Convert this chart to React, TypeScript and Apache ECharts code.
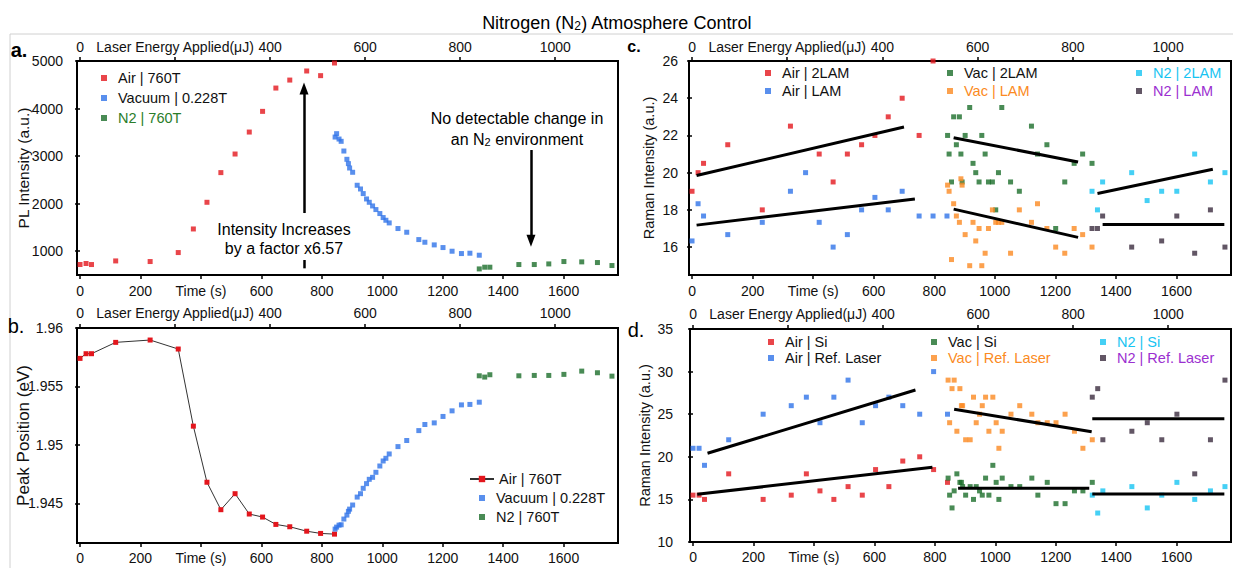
import React, { useEffect, useRef } from "react";
import * as echarts from "echarts";

// ---------- time bases (s) ----------
const AIR_T = [0, 20, 38, 118, 232, 325, 375, 420, 466, 513, 560, 604, 648, 694, 750, 796, 842];
const VAC_T = [844, 849, 857, 864, 873, 883, 888, 892, 902, 917, 928, 937, 948, 957, 968, 979, 992, 1003, 1012, 1023, 1052, 1081, 1121, 1141, 1172, 1201, 1231, 1262, 1290, 1321];
const N2_T = [1321, 1339, 1356, 1452, 1503, 1551, 1601, 1660, 1712, 1760];

// ---------- panel a: PL intensity ----------
const PL_AIR = [721, 742, 720, 796, 783, 972, 1468, 2029, 2653, 3044, 3506, 3941, 4431, 4599, 4790, 4692, 4958];
const PL_VAC = [3401, 3472, 3359, 3311, 3107, 2933, 2842, 2750, 2660, 2387, 2309, 2212, 2099, 2029, 1952, 1876, 1792, 1708, 1651, 1595, 1477, 1399, 1245, 1189, 1133, 1077, 1000, 951, 958, 916];
const PL_N2 = [628, 664, 664, 720, 720, 733, 783, 776, 762, 699];

// ---------- panel b: peak position ----------
const PP_AIR = [1.9574, 1.9578, 1.9578, 1.95877, 1.95897, 1.9582, 1.9516, 1.9468, 1.94445, 1.94582, 1.94408, 1.94382, 1.94319, 1.94299, 1.94261, 1.94242, 1.94236];
const PP_VAC = [1.94279, 1.94296, 1.94313, 1.94316, 1.94365, 1.94399, 1.94431, 1.9445, 1.94485, 1.94553, 1.94582, 1.94628, 1.94668, 1.94705, 1.94722, 1.94765, 1.94819, 1.94862, 1.94885, 1.94922, 1.94985, 1.95037, 1.95122, 1.95174, 1.95188, 1.95243, 1.95291, 1.95342, 1.95346, 1.95365];
const PP_N2 = [1.95591, 1.9558, 1.956, 1.95591, 1.95594, 1.95594, 1.95603, 1.95631, 1.95617, 1.95588];

// ---------- panel c: Raman LAM / 2LAM ----------
const AIR_2LAM_T = [0, 20, 38, 118, 232, 325, 420, 466, 513, 560, 604, 648, 694, 750, 796];
const AIR_2LAM = [19, 20, 20.5, 21.5, 18, 22.5, 21, 19.5, 21, 21.5, 22, 23, 24, 22, 26];
const AIR_LAM = [16.33, 18.33, 17.67, 16.67, 17.33, 19, 20, 17.33, 16, 16.67, 18, 18.67, 18, 19, 17.67, 17.67, 17.67];
const VAC_2LAM = [22, 21, 19.5, 23, 21.5, 23, 21, 19.5, 22, 23.5, 20.5, 20, 19.5, 22, 21, 19.5, 19.5, 18, 20, 23.5, 19.5, 19, 22.5, 21, 21.5, 17, 19.5, 20.5, 21, 20.5];
const VAC_LAM = [19.33, 19, 15.33, 18.33, 17.67, 17.33, 19.67, 19.33, 16.67, 15, 17.33, 16.33, 17, 15, 15.67, 17, 18, 17.33, 17.33, 17.33, 15.67, 18, 17.33, 18.33, 17, 16, 15.67, 17, 16.67, 16];
const N2_2LAM = [19, 18, 19.5, 20, 18.5, 19, 19, 21, 19.5, 20];
const N2_LAM_T = [1321, 1339, 1356, 1452, 1551, 1601, 1660, 1712, 1760];
const N2_LAM = [17, 17, 17.67, 16, 16.33, 17.67, 15.67, 18, 16];

const FIT_C_AIR_2LAM = [[15, 19.85], [700, 22.45]];
const FIT_C_AIR_LAM = [[15, 17.18], [736, 18.59]];
const FIT_C_VAC_2LAM = [[864, 21.88], [1275, 20.57]];
const FIT_C_VAC_LAM = [[864, 18.04], [1275, 16.52]];
const FIT_C_N2_2LAM = [[1339, 18.88], [1720, 20.18]];
const FIT_C_N2_LAM = [[1356, 17.22], [1758, 17.22]];

// ---------- panel d: Raman Si / reference laser ----------
const AIR_SI = [15.5, 15.5, 15, 18, 15, 15.5, 18, 16, 15, 16.5, 15.5, 18.5, 16.5, 19.5, 20, 18.5, 17];
const AIR_REF = [21, 21, 19, 22, 25, 26, 27, 24, 27, 29, 24, 26, 27, 26, 25, 30, 25];
const VAC_SI = [17.5, 15.5, 14, 16, 18, 17, 17, 16.5, 15.5, 16.5, 15, 16.5, 16, 15.5, 17.5, 15.5, 19, 17, 15, 17.5, 16.5, 16.5, 17.5, 15.5, 17, 14.5, 14.5, 16, 16, 17];
const VAC_REF = [29, 24, 28, 29, 23, 28, 26, 26, 22, 22, 27, 24, 25, 26, 27, 23, 27, 24, 21, 23, 25, 26, 25, 24, 24, 24, 25, 23, 21, 22];
const N2_SI = [15.5, 13.4, 16, 16.5, 14, 15.5, 17, 15, 16, 16.5];
const N2_REF = [27, 28, 22, 23, 24, 22, 25, 18, 22, 29];

const FIT_D_AIR_REF = [[48, 20.41], [736, 27.84]];
const FIT_D_AIR_SI = [[14, 15.6], [792, 18.77]];
const FIT_D_VAC_REF = [[864, 25.57], [1319, 22.95]];
const FIT_D_VAC_SI = [[877, 16.3], [1311, 16.3]];
const FIT_D_N2_REF = [[1321, 24.47], [1758, 24.47]];
const FIT_D_N2_SI = [[1321, 15.63], [1758, 15.63]];

// ---------- annotation anchors (data coords, panel a) ----------
const ARROW_UP = [[741, 1803], [741, 4420]];
const ARROW_UP_STUB = [[741, 815], [741, 640]];
const ARROW_DOWN = [[1492, 3128], [1492, 1220]];

// ---------- axes ticks ----------
const TIME_TICKS = [0, 200, 400, 600, 800, 1000, 1200, 1400, 1600];
const ENERGY_TICKS = [0, 200, 400, 600, 800, 1000];
const Y_TICKS_A = [1000, 2000, 3000, 4000, 5000];
const Y_TICKS_B = [1.945, 1.95, 1.955, 1.96];
const Y_TICKS_C = [16, 18, 20, 22, 24, 26];
const Y_TICKS_D = [10, 15, 20, 25, 30, 35];

const T_MIN = -10;
const T_MAX = 1780;
const E_PER_S = 0.636;

const FONT = '"Liberation Sans", Arial, Helvetica, sans-serif';
const RED = "#e3161d";
const BLUE = "#2f73e8";
const GREEN = "#1b6e2a";
const ORANGE = "#fb8a22";
const CYAN = "#17c4f2";
const DARK = "#3b2c3f";
const TXT_GREEN = "#2a7d2a";
const TXT_ORANGE = "#fb8a22";
const TXT_CYAN = "#17c4f2";
const TXT_PURPLE = "#9b30d0";

const pts = (ts: number[], vs: number[]) => ts.map((t, i) => [t, vs[i]]);
const strip = (n: string) => n.split("::")[1];

function buildOption(): any {
  const grids = [
    { left: 77, top: 61, width: 541, height: 214 },
    { left: 77, top: 328, width: 541, height: 215 },
    { left: 689, top: 61, width: 542, height: 214 },
    { left: 690, top: 329, width: 541, height: 213 },
  ].map((g) => ({ ...g, show: true, borderColor: "#000", borderWidth: 2, backgroundColor: "transparent" }));

  const lblMarginsBottom = [9, 8, 9, 8];
  const lblMarginsTop = [7, 8, 7, 8];
  const xAxes: any[] = [];
  for (let i = 0; i < 4; i++) {
    xAxes.push({
      type: "value",
      gridIndex: i,
      position: "bottom",
      min: T_MIN,
      max: T_MAX,
      axisLine: { show: false },
      axisTick: { show: true, customValues: TIME_TICKS, length: 4, lineStyle: { color: "#000", width: 1.5 } },
      axisLabel: {
        customValues: TIME_TICKS,
        formatter: (v: number) => (v === 400 ? "Time (s)" : String(v)),
        color: "#111",
        fontSize: 14,
        fontFamily: FONT,
        margin: lblMarginsBottom[i],
      },
      splitLine: { show: false },
    });
    xAxes.push({
      type: "value",
      gridIndex: i,
      position: "top",
      min: T_MIN * E_PER_S,
      max: T_MAX * E_PER_S,
      axisLine: { show: false },
      axisTick: { show: true, customValues: ENERGY_TICKS, length: 4, lineStyle: { color: "#000", width: 1.5 } },
      axisLabel: {
        customValues: ENERGY_TICKS,
        formatter: (v: number) => (v === 200 ? "Laser Energy Applied(μJ)" : String(v)),
        color: "#111",
        fontSize: 14,
        fontFamily: FONT,
        margin: lblMarginsTop[i],
      },
      splitLine: { show: false },
    });
  }

  const yDefs = [
    { min: 500, max: 5000, ticks: Y_TICKS_A, name: "PL Intensity (a.u.)", gap: 46, margin: 14, fs: 15.5 },
    { min: 1.9416, max: 1.96, ticks: Y_TICKS_B, name: "Peak Position (eV)", gap: 45, margin: 14, fs: 17 },
    { min: 14.5, max: 26, ticks: Y_TICKS_C, name: "Raman Intensity (a.u.)", gap: 33, margin: 11, fs: 14.5 },
    { min: 10, max: 35, ticks: Y_TICKS_D, name: "Raman Intensity (a.u.)", gap: 38, margin: 17, fs: 14.5 },
  ];
  const yAxes = yDefs.map((d, i) => ({
    type: "value",
    gridIndex: i,
    min: d.min,
    max: d.max,
    name: d.name,
    nameLocation: "middle",
    nameGap: d.gap,
    nameMoveOverlap: false,
    nameTextStyle: { fontSize: d.fs, fontFamily: FONT, color: "#111" },
    axisLine: { show: false },
    axisTick: { show: true, customValues: d.ticks, length: 5, lineStyle: { color: "#000", width: 1.5 } },
    axisLabel: {
      customValues: d.ticks,
      formatter: (v: number) => String(+v.toFixed(3)),
      color: "#111",
      fontSize: 14,
      fontFamily: FONT,
      margin: d.margin,
    },
    splitLine: { show: false },
  }));

  const sc = (name: string, data: any[], grid: number, color: string, z = 3) => ({
    type: "scatter",
    name,
    xAxisIndex: grid * 2,
    yAxisIndex: grid,
    data,
    symbol: "rect",
    symbolSize: 5,
    itemStyle: { color },
    z,
  });
  const fit = (data: any[], grid: number) => ({
    type: "line",
    xAxisIndex: grid * 2,
    yAxisIndex: grid,
    data,
    symbol: "none",
    lineStyle: { color: "#000", width: 3 },
    z: 5,
    silent: true,
  });

  const arrowStyle = { color: "#000", width: 2.5, type: "solid" };

  const series: any[] = [
    // panel a
    sc("a::Air | 760T", pts(AIR_T, PL_AIR), 0, RED),
    sc("a::Vacuum | 0.228T", pts(VAC_T, PL_VAC), 0, BLUE),
    {
      ...sc("a::N2 | 760T", pts(N2_T, PL_N2), 0, GREEN),
      markLine: {
        silent: true,
        animation: false,
        label: { show: false },
        lineStyle: arrowStyle,
        symbolSize: [9, 12],
        data: [
          [
            { coord: ARROW_UP[0], symbol: "none" },
            { coord: ARROW_UP[1], symbol: "triangle" },
          ],
          [
            { coord: ARROW_UP_STUB[0], symbol: "none" },
            { coord: ARROW_UP_STUB[1], symbol: "none" },
          ],
          [
            { coord: ARROW_DOWN[0], symbol: "none" },
            { coord: ARROW_DOWN[1], symbol: "triangle" },
          ],
        ],
      },
    },
    // panel b
    {
      type: "line",
      name: "b::Air | 760T",
      xAxisIndex: 2,
      yAxisIndex: 1,
      data: pts(AIR_T, PP_AIR),
      symbol: "rect",
      symbolSize: 5,
      showSymbol: true,
      lineStyle: { color: "#333", width: 1 },
      itemStyle: { color: RED },
      z: 3,
    },
    sc("b::Vacuum | 0.228T", pts(VAC_T, PP_VAC), 1, BLUE),
    sc("b::N2 | 760T", pts(N2_T, PP_N2), 1, GREEN),
    // panel c
    sc("c::Air | 2LAM", pts(AIR_2LAM_T, AIR_2LAM), 2, RED),
    sc("c::Air | LAM", pts(AIR_T, AIR_LAM), 2, BLUE),
    sc("c::Vac | 2LAM", pts(VAC_T, VAC_2LAM), 2, GREEN),
    sc("c::Vac | LAM", pts(VAC_T, VAC_LAM), 2, ORANGE),
    sc("c::N2 | 2LAM", pts(N2_T, N2_2LAM), 2, CYAN),
    sc("c::N2 | LAM", pts(N2_LAM_T, N2_LAM), 2, DARK),
    fit(FIT_C_AIR_2LAM, 2),
    fit(FIT_C_AIR_LAM, 2),
    fit(FIT_C_VAC_2LAM, 2),
    fit(FIT_C_VAC_LAM, 2),
    fit(FIT_C_N2_2LAM, 2),
    fit(FIT_C_N2_LAM, 2),
    // panel d
    sc("d::Air | Si", pts(AIR_T, AIR_SI), 3, RED),
    sc("d::Air | Ref. Laser", pts(AIR_T, AIR_REF), 3, BLUE),
    sc("d::Vac | Si", pts(VAC_T, VAC_SI), 3, GREEN, 4),
    sc("d::Vac | Ref. Laser", pts(VAC_T, VAC_REF), 3, ORANGE),
    sc("d::N2 | Si", pts(N2_T, N2_SI), 3, CYAN),
    sc("d::N2 | Ref. Laser", pts(N2_T, N2_REF), 3, DARK),
    fit(FIT_D_AIR_REF, 3),
    fit(FIT_D_AIR_SI, 3),
    fit(FIT_D_VAC_REF, 3),
    fit(FIT_D_VAC_SI, 3),
    fit(FIT_D_N2_REF, 3),
    fit(FIT_D_N2_SI, 3),
  ];

  const lg = (left: number, top: number, items: [string, string][], lineH: number, gap: number, extra: any = {}) => ({
    orient: "vertical",
    left,
    top,
    itemWidth: 6,
    itemHeight: 6,
    itemGap: gap,
    padding: 0,
    selectedMode: false,
    icon: "rect",
    formatter: strip,
    textStyle: { fontSize: 14.5, fontFamily: FONT, color: "#111", lineHeight: lineH, padding: [0, 0, 0, 6] },
    data: items.map(([name, color]) => ({ name, textStyle: { color } })),
    ...extra,
  });

  const legends = [
    lg(101, 69, [["a::Air | 760T", "#111"], ["a::Vacuum | 0.228T", "#111"], ["a::N2 | 760T", TXT_GREEN]], 18, 2),
    {
      orient: "vertical",
      left: 469,
      top: 470,
      itemWidth: 24,
      itemHeight: 8,
      padding: 0,
      selectedMode: false,
      formatter: strip,
      textStyle: { fontSize: 14.5, fontFamily: FONT, color: "#111", lineHeight: 18 },
      data: [{ name: "b::Air | 760T" }],
    },
    lg(479, 489, [["b::Vacuum | 0.228T", "#111"], ["b::N2 | 760T", "#111"]], 18, 1),
    lg(765, 64, [["c::Air | 2LAM", "#111"], ["c::Air | LAM", "#111"]], 18, 0),
    lg(947, 64, [["c::Vac | 2LAM", "#111"], ["c::Vac | LAM", TXT_ORANGE]], 18, 0),
    lg(1136, 64, [["c::N2 | 2LAM", TXT_CYAN], ["c::N2 | LAM", TXT_PURPLE]], 18, 0),
    lg(768, 334, [["d::Air | Si", "#111"], ["d::Air | Ref. Laser", "#111"]], 16, 0),
    lg(931, 334, [["d::Vac | Si", "#111"], ["d::Vac | Ref. Laser", TXT_ORANGE]], 16, 0),
    lg(1100, 334, [["d::N2 | Si", TXT_CYAN], ["d::N2 | Ref. Laser", TXT_PURPLE]], 16, 0),
  ];

  const txt = (x: number, y: number, text: string, fontSize: number, extra: any = {}) => ({
    type: "text",
    x,
    y,
    silent: true,
    style: {
      text,
      fontSize,
      fontFamily: FONT,
      fill: "#000",
      align: "center",
      verticalAlign: "middle",
      ...extra,
    },
    z: 10,
  });

  const graphic: any[] = [
    { type: "line", silent: true, shape: { x1: 10, y1: 34, x2: 1233, y2: 34 }, style: { stroke: "#d0d0d0", lineWidth: 1 } },
    { type: "line", silent: true, shape: { x1: 10, y1: 34, x2: 10, y2: 568 }, style: { stroke: "#d0d0d0", lineWidth: 1 } },
    txt(617, 21, "{n|Nitrogen (N}{s|2}{n|) Atmosphere Control}", 18, {
      rich: {
        n: { fontSize: 18, fontFamily: FONT, lineHeight: 22, verticalAlign: "bottom" },
        s: { fontSize: 12, fontFamily: FONT, lineHeight: 22, verticalAlign: "bottom", padding: [0, 0, 0, 0] },
      },
    }),
    txt(19, 50, "a.", 20, { fontWeight: "bold" }),
    txt(16, 326, "b.", 20),
    txt(634, 46, "c.", 16, { fontWeight: "bold" }),
    txt(636, 330, "d.", 20),
    txt(284, 229, "Intensity Increases", 16),
    txt(284, 248, "by a factor x6.57", 16),
    txt(517, 118, "No detectable change in", 16),
    txt(517, 137, "{n|an N}{s|2}{n| environment}", 16, {
      rich: {
        n: { fontSize: 16, fontFamily: FONT, lineHeight: 20, verticalAlign: "bottom" },
        s: { fontSize: 11, fontFamily: FONT, lineHeight: 20, verticalAlign: "bottom" },
      },
    }),
  ];

  return {
    animation: false,
    backgroundColor: "#fff",
    textStyle: { fontFamily: FONT },
    grid: grids,
    xAxis: xAxes,
    yAxis: yAxes,
    legend: legends,
    series,
    graphic,
  };
}

export default function App() {
  const ref = useRef<HTMLDivElement>(null);
  useEffect(() => {
    if (!ref.current) return;
    const chart = echarts.init(ref.current, null, { renderer: "svg" });
    chart.setOption(buildOption());
    return () => chart.dispose();
  }, []);
  return (
    <div
      ref={ref}
      style={{ position: "fixed", left: 0, top: 0, width: 1233, height: 568, background: "#fff" }}
    />
  );
}
